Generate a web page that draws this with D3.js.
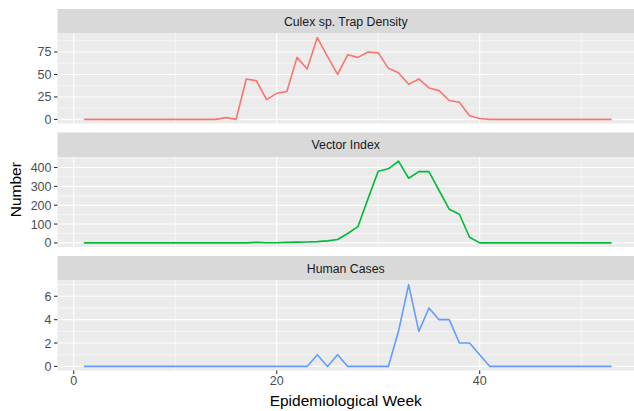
<!DOCTYPE html>
<html lang="en">
<head>
    <meta charset="UTF-8">
    <title>Surveillance by Week</title>
    <script src="https://d3js.org/d3.v7.min.js"></script>
    <style>
        html, body {
            margin: 0;
            padding: 0;
            background: #ffffff;
            overflow: hidden;
        }
        svg {
            display: block;
            font-family: "Liberation Sans", Arial, sans-serif;
        }
        .strip-text {
            fill: #1a1a1a;
            font-size: 12.3px;
        }
        .tick-text {
            fill: #4d4d4d;
            font-size: 12.5px;
        }
        .axis-title {
            fill: #000000;
            font-size: 15.5px;
        }
    </style>
</head>
<body>
<svg id="chart" width="634" height="411"></svg>
<script>
    // data
    const weeks = [1, 2, 3, 4, 5, 6, 7, 8, 9, 10, 11, 12, 13, 14, 15, 16, 17, 18, 19, 20,
        21, 22, 23, 24, 25, 26, 27, 28, 29, 30, 31, 32, 33, 34, 35, 36, 37, 38, 39, 40,
        41, 42, 43, 44, 45, 46, 47, 48, 49, 50, 51, 52, 53];

    const culexDensity = [0, 0, 0, 0, 0, 0, 0, 0, 0, 0, 0, 0, 0, 0, 2, 0, 45, 43, 22, 29,
        31, 69, 56, 91, 70, 50, 72, 69, 75, 74, 57, 52, 39, 45, 35, 32, 21, 19, 4, 1,
        0, 0, 0, 0, 0, 0, 0, 0, 0, 0, 0, 0, 0];

    const vectorIndex = [0, 0, 0, 0, 0, 0, 0, 0, 0, 0, 0, 0, 0, 0, 0, 0, 0, 3, 1, 1,
        3, 4, 5, 7, 11, 18, 50, 86, 235, 380, 393, 434, 343, 378, 378, 278, 179, 152, 30, 0,
        0, 0, 0, 0, 0, 0, 0, 0, 0, 0, 0, 0, 0];

    const humanCases = [0, 0, 0, 0, 0, 0, 0, 0, 0, 0, 0, 0, 0, 0, 0, 0, 0, 0, 0, 0,
        0, 0, 0, 1, 0, 1, 0, 0, 0, 0, 0, 3, 7, 3, 5, 4, 4, 2, 2, 1,
        0, 0, 0, 0, 0, 0, 0, 0, 0, 0, 0, 0, 0];

    const panelNames = ["Culex sp. Trap Density", "Vector Index", "Human Cases"];
    const panelColors = ["#F8766D", "#00BA38", "#619CFF"];
    const yTicks = [[0, 25, 50, 75], [0, 100, 200, 300, 400], [0, 2, 4, 6]];
    const xTicks = [0, 20, 40];

    const series = [culexDensity, vectorIndex, humanCases];

    const svg = d3.select("#chart");

    const left = 57.5, right = 638;
    const stripTop = [9, 132.5, 256];
    const stripH = 24.5, panelH = 90;

    // ggplot style 5% expansion on x
    const xMin = d3.min(weeks), xMax = d3.max(weeks);
    const xPad = (xMax - xMin) * 0.05;
    const x = d3.scaleLinear()
        .domain([xMin - xPad, xMax + xPad])
        .range([left, right]);

    const xMinor = [10, 30, 50];

    series.forEach((values, i) => {
        const top = stripTop[i] + stripH;
        const bottom = top + panelH;
        const yMax = d3.max(values);
        const y = d3.scaleLinear()
            .domain([-yMax * 0.05, yMax * 1.05])
            .range([bottom, top]);

        // strip
        svg.append("rect")
            .attr("x", left).attr("y", stripTop[i])
            .attr("width", right - left).attr("height", stripH)
            .attr("fill", "#d9d9d9");
        svg.append("text")
            .attr("class", "strip-text")
            .attr("x", (left + right) / 2 - 2)
            .attr("y", stripTop[i] + stripH / 2)
            .attr("dy", "0.36em")
            .attr("text-anchor", "middle")
            .text(panelNames[i]);

        // panel background
        const g = svg.append("g");
        g.append("rect")
            .attr("x", left).attr("y", top)
            .attr("width", right - left).attr("height", panelH)
            .attr("fill", "#ebebeb");

        // minor grid
        const step = yTicks[i][1] - yTicks[i][0];
        const yMinor = d3.range(step / 2, y.domain()[1], step);
        g.selectAll(".ymin").data(yMinor).enter().append("line")
            .attr("x1", left).attr("x2", right)
            .attr("y1", d => y(d)).attr("y2", d => y(d))
            .attr("stroke", "#ffffff").attr("stroke-width", 0.55);
        g.selectAll(".xmin").data(xMinor).enter().append("line")
            .attr("x1", d => x(d)).attr("x2", d => x(d))
            .attr("y1", top).attr("y2", bottom)
            .attr("stroke", "#ffffff").attr("stroke-width", 0.55);

        // major grid
        g.selectAll(".ymaj").data(yTicks[i]).enter().append("line")
            .attr("x1", left).attr("x2", right)
            .attr("y1", d => y(d)).attr("y2", d => y(d))
            .attr("stroke", "#ffffff").attr("stroke-width", 1.1);
        g.selectAll(".xmaj").data(xTicks).enter().append("line")
            .attr("x1", d => x(d)).attr("x2", d => x(d))
            .attr("y1", top).attr("y2", bottom)
            .attr("stroke", "#ffffff").attr("stroke-width", 1.1);

        // y axis ticks + labels
        const yAxis = svg.append("g");
        yAxis.selectAll("line").data(yTicks[i]).enter().append("line")
            .attr("x1", left - 3.5).attr("x2", left)
            .attr("y1", d => y(d)).attr("y2", d => y(d))
            .attr("stroke", "#333333").attr("stroke-width", 1.1);
        yAxis.selectAll("text").data(yTicks[i]).enter().append("text")
            .attr("class", "tick-text")
            .attr("x", left - 6)
            .attr("y", d => y(d))
            .attr("dy", "0.36em")
            .attr("text-anchor", "end")
            .text(d => d);

        // line
        const line = d3.line()
            .x((d, j) => x(weeks[j]))
            .y(d => y(d));
        g.append("path")
            .datum(values)
            .attr("d", line)
            .attr("fill", "none")
            .attr("stroke", panelColors[i])
            .attr("stroke-width", 1.6)
            .attr("stroke-linejoin", "round");

        // x axis on the last panel only
        if (i === series.length - 1) {
            const xAxis = svg.append("g");
            xAxis.selectAll("line").data(xTicks).enter().append("line")
                .attr("x1", d => x(d)).attr("x2", d => x(d))
                .attr("y1", bottom).attr("y2", bottom + 3.5)
                .attr("stroke", "#333333").attr("stroke-width", 1.1);
            xAxis.selectAll("text").data(xTicks).enter().append("text")
                .attr("class", "tick-text")
                .attr("x", d => x(d))
                .attr("y", bottom + 6)
                .attr("dy", "0.71em")
                .attr("text-anchor", "middle")
                .text(d => d);

            svg.append("text")
                .attr("class", "axis-title")
                .attr("x", (left + right) / 2 - 2)
                .attr("y", 406)
                .attr("text-anchor", "middle")
                .text("Epidemiological Week");
        }
    });

    svg.append("text")
        .attr("class", "axis-title")
        .attr("transform", `translate(21,${(stripTop[0] + stripTop[2] + stripH + panelH) / 2}) rotate(-90)`)
        .attr("text-anchor", "middle")
        .text("Number");
</script>
</body>
</html>
